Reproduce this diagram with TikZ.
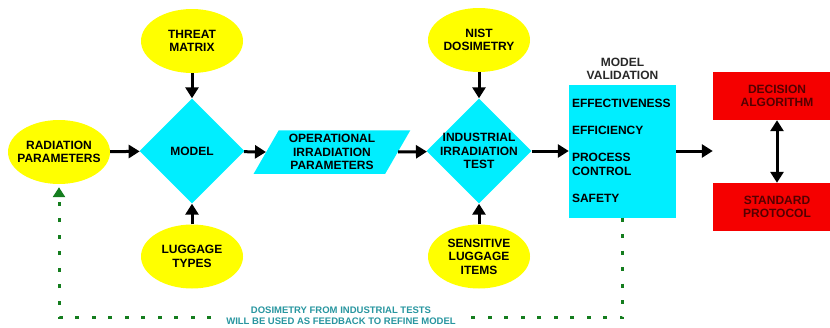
\documentclass[tikz,border=0pt]{standalone}
\usepackage{fontspec}
\setmainfont{Liberation Sans}
\usetikzlibrary{shapes.geometric,arrows.meta,positioning,calc}

\definecolor{yel}{RGB}{255,255,0}
\definecolor{cyn}{RGB}{0,238,255}
\definecolor{rd}{RGB}{245,0,0}
\definecolor{rdtext}{RGB}{85,0,0}
\definecolor{fbgreen}{RGB}{20,125,30}
\definecolor{teal2}{RGB}{40,150,160}
\definecolor{titlegray}{RGB}{40,40,40}

\begin{document}
\begin{tikzpicture}[x=1pt,y=-1pt,
  font=\fontsize{12}{13.5}\selectfont\bfseries,
  inbox/.style={ellipse,fill=yel,minimum width=102pt,minimum height=64pt,inner sep=-8pt,align=center},
  procbox/.style={diamond,fill=cyn,minimum width=105pt,minimum height=105pt,inner sep=-10pt,align=center},
  databox/.style={trapezium,trapezium left angle=60,trapezium right angle=120,fill=cyn,inner xsep=10pt,inner ysep=4pt,align=center},
  outbox/.style={rectangle,fill=rd,text=rdtext,minimum width=128pt,minimum height=48pt,align=center},
  flow/.style={-{Triangle[length=11pt,width=13pt]},line width=3pt},
  feedback/.style={-{Triangle[length=10pt,width=12pt]},fbgreen,line width=3pt,dash pattern=on 4pt off 12.5pt,shorten >=3pt}]
\useasboundingbox (0,0) rectangle (830,327);

\node[inbox] (rad) at (59,152) {RADIATION\\PARAMETERS};
\node[inbox] (threat) at (192,41) {THREAT\\MATRIX};
\node[procbox] (model) at (192,151) {MODEL};
\node[inbox] (lug) at (192,256.5) {LUGGAGE\\TYPES};
\node[databox] (oper) at (332,152) {OPERATIONAL\\IRRADIATION\\PARAMETERS};
\node[inbox] (nist) at (479,40) {NIST\\DOSIMETRY};
\node[procbox] (iit) at (479,151) {INDUSTRIAL\\IRRADIATION\\TEST};
\node[inbox] (sens) at (479,256.5) {SENSITIVE\\LUGGAGE\\ITEMS};
%\node[valbox] (val) [right of=iit] {...};
\node[rectangle,fill=cyn,minimum width=107pt,minimum height=133pt,text width=101pt,inner xsep=3pt,align=left] (val) at (622.5,151)
  {EFFECTIVENESS\\[13.5pt]EFFICIENCY\\[13.5pt]PROCESS\\CONTROL\\[13.5pt]SAFETY};
\node[above=1pt of val,text=titlegray,align=center] (valtitle) {MODEL\\VALIDATION};
\node[outbox] (dec) at (777,96) {DECISION\\ALGORITHM};
\node[outbox] (std) at (777,207) {STANDARD\\PROTOCOL};
\coordinate (redcol) at ($(dec.south west)!0.5!(std.north west)$);

\draw[flow] (threat) -- (model);
\draw[flow] (lug) -- (model);
\draw[flow] (rad) -- (model);
\draw[flow] (model) -- (oper.west);
\draw[flow] (oper.east) -- (iit);
\draw[flow] (nist) -- (iit);
\draw[flow] (sens) -- (iit);
\draw[flow] (iit) -- (val);
\draw[flow] (val.east) -- (val.east -| redcol);
\draw[flow,{Triangle[length=11pt,width=13pt]}-{Triangle[length=11pt,width=13pt]}] (dec) -- (std);

\draw[feedback] (val.south) -- ++(0,100) -| (rad.south);
\node[fill=white,text=teal2,font=\fontsize{9.5}{11}\selectfont\bfseries,align=center,inner sep=3pt] (fbnote) at (341,316)
  {DOSIMETRY FROM INDUSTRIAL TESTS\\WILL BE USED AS FEEDBACK TO REFINE MODEL};
\end{tikzpicture}
\end{document}
